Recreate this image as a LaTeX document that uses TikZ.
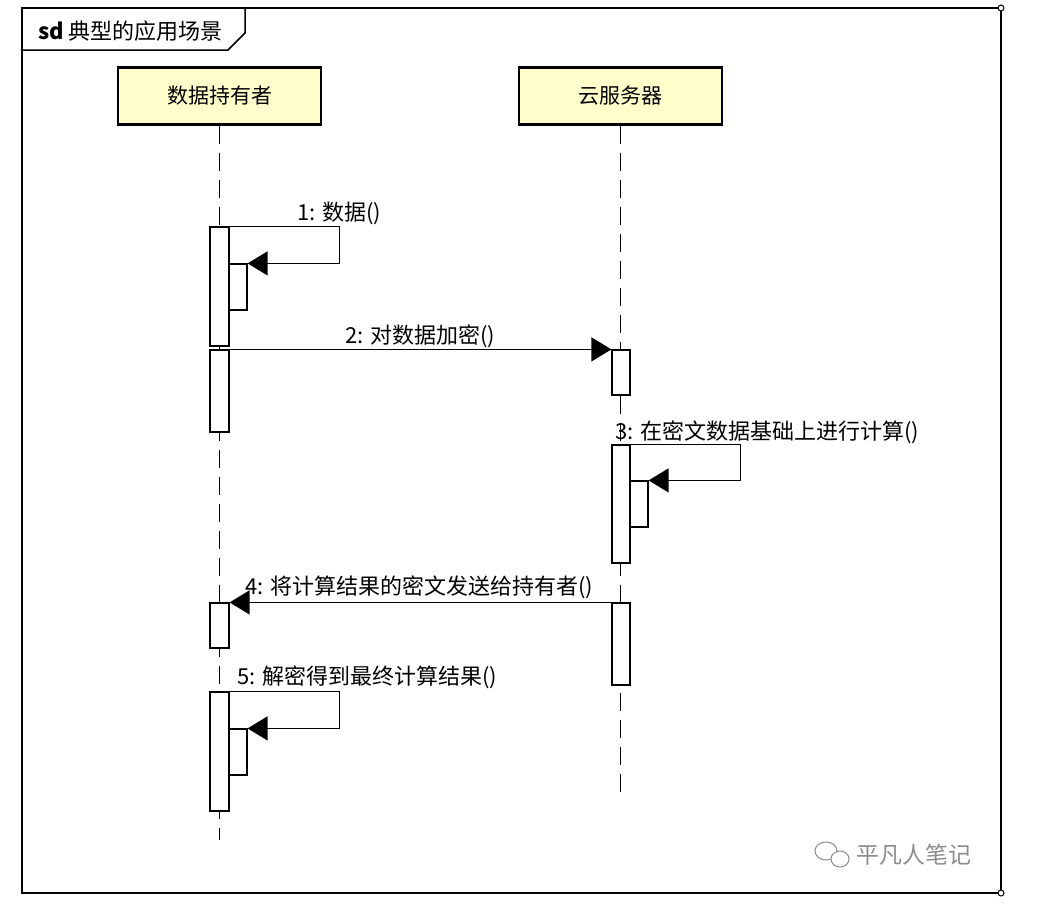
\documentclass[tikz,border=0pt]{standalone}
\usepackage{fontspec}
\setmainfont{Noto Sans CJK SC}
\usepackage{tikz}
\usetikzlibrary{arrows.meta}
\definecolor{headfill}{RGB}{255,255,204}
\definecolor{markgray}{RGB}{140,140,140}
\tikzset{actor/.style = {shape = rectangle, draw, line width = 2.4pt, fill = headfill, minimum width = 203pt, minimum height = 57pt, inner sep = 0pt, font = \fontsize{21}{25}\selectfont}}
\tikzset{act/.style = {shape = rectangle, draw, line width = 1.2pt, fill = white, inner sep = 0pt}}
\tikzset{lifeline/.style = {line width = 1.2pt, dash pattern = on 18pt off 9pt}}
\tikzset{msg/.style = {line width = 1.3pt, -{Triangle[length = 20pt, width = 24pt]}}}
\tikzset{msglabel/.style = {anchor = west, inner sep = 0pt, font = \fontsize{22}{26}\selectfont}}
\tikzset{frame/.style = {line width = 1.5pt}}

\begin{document}
\begin{tikzpicture}[x = 1pt, y = -1pt]
				\useasboundingbox (0, 0) rectangle (1057, 913);
	
				\draw[frame] (22, 8) rectangle (1001, 893);
				\draw[frame] (22, 50) -- (228, 50) -- (245, 33) -- (245, 8);
				\node[msglabel] (title) at (38, 31) {\textbf{sd} 典型的应用场景};
				\draw[line width = 1pt, fill = white] (1001, 8) circle (3pt);
				\draw[line width = 1pt, fill = white] (1001, 893) circle (3pt);
	
				\node[actor] (owner) at (219.5, 96) {数据持有者};
				\node[actor] (cloud) at (620.5, 96) {云服务器};
				\coordinate (ownerend) at (219.5, 840);
				\coordinate (cloudend) at (620.5, 795);
				\draw[lifeline] (owner) -- (ownerend);
				\draw[lifeline] (cloud) -- (cloudend);
	
				\node[act, minimum width = 19pt, minimum height = 119pt] (a1) at (219.5, 286.5) {};
				\node[act, minimum width = 18pt, minimum height = 46pt] (n1) at (238, 287) {};
				\node[act, minimum width = 19pt, minimum height = 82pt] (a2) at (219.5, 391) {};
				\node[act, minimum width = 18pt, minimum height = 45pt] (r1) at (621, 372.5) {};
				\node[act, minimum width = 18pt, minimum height = 118pt] (r2) at (621, 504) {};
				\node[act, minimum width = 18pt, minimum height = 46pt] (n3) at (639, 504) {};
				\node[act, minimum width = 19pt, minimum height = 45pt] (a3) at (219.5, 625.5) {};
				\node[act, minimum width = 18pt, minimum height = 82pt] (r3) at (621, 644) {};
				\node[act, minimum width = 19pt, minimum height = 119pt] (a4) at (219.5, 751.5) {};
				\node[act, minimum width = 18pt, minimum height = 46pt] (n5) at (238, 752) {};
	
				\draw[msg] (a1.north east) -- ++(110, 0) |- (n1.north east);
				\draw[msg] (a2.north east) -- (r1.north west);
				\draw[msg] (r2.north east) -- ++(110, 0) |- (n3.north east);
				\draw[msg] (r3.north west) -- (a3.north east);
				\draw[msg] (a4.north east) -- ++(110, 0) |- (n5.north east);
	
				\node[msglabel] (m1) at (297, 213) {1: 数据()};
				\node[msglabel] (m2) at (345, 336) {2: 对数据加密()};
				\node[msglabel] (m3) at (615, 432) {3: 在密文数据基础上进行计算()};
				\node[msglabel] (m4) at (245, 587) {4: 将计算结果的密文发送给持有者()};
				\node[msglabel] (m5) at (237, 677) {5: 解密得到最终计算结果()};
	
				\draw[markgray, line width = 1pt, fill = white] (826, 851) ellipse (11pt and 9pt);
				\draw[markgray, line width = 1pt, fill = white] (840, 859) ellipse (9pt and 8pt);
				\node[anchor = west, inner sep = 0pt, text = markgray, font = \fontsize{23}{27}\selectfont] (mark) at (856, 855) {平凡人笔记};
			\end{tikzpicture}
\end{document}
